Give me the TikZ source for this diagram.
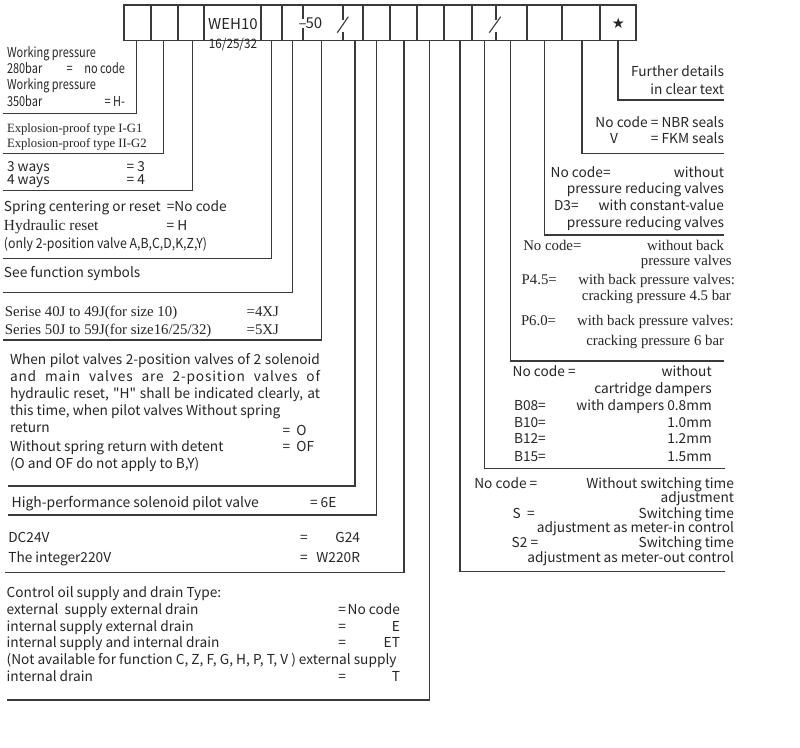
\documentclass[tikz,border=0pt]{standalone}
\usepackage{fontspec}
\setmainfont{Liberation Serif}
\newfontfamily\sansf{Noto Sans CJK SC}
\newfontfamily\condf[FakeStretch=0.80]{Noto Sans CJK SC}
\newfontfamily\condfb[FakeStretch=0.90]{Noto Sans CJK SC}
\newfontfamily\sansls[LetterSpace=6]{Noto Sans CJK SC}
\newfontfamily\symf{DejaVu Sans}
\definecolor{txt}{HTML}{262626}
\definecolor{linec}{HTML}{3A3A3A}
\begin{document}
\begin{tikzpicture}[x=1pt,y=-1pt,
  ln/.style={draw=linec, line width=1.1pt},
  base/.style={inner sep=0pt, outer sep=0pt, text=txt},
  S/.style={base, font=\sansf\fontsize{13.7}{16}\selectfont},
  SH/.style={base, font=\sansf\fontsize{13.9}{16}\selectfont},
  SL/.style={base, font=\sansf\fontsize{15}{16.7}\selectfont},
  C/.style={base, font=\condf\fontsize{13.7}{16}\selectfont},
  CB/.style={base, font=\condfb\fontsize{13.7}{16}\selectfont},
  R/.style={base, font=\rmfamily\fontsize{14.8}{16}\selectfont},
  RH/.style={base, font=\rmfamily\fontsize{15.4}{16}\selectfont},
  RS/.style={base, font=\rmfamily\fontsize{12.7}{14}\selectfont},
  W/.style={anchor=base west, yshift=-4.6pt},
  E/.style={anchor=base east, yshift=-4.6pt}]
\useasboundingbox (0,0) rectangle (800,747);
\fill[white] (0,0) rectangle (800,747);

% ---------- code row ----------
\draw[ln] (124,5) rectangle (636,40.7);
\foreach \x in {151,178,204,261,282,363,390,417,444,472,527,562,600}
  \draw[ln] (\x,5) -- (\x,40.7);
\draw[ln] (303,5) -- (303,18.5) (303,27.5) -- (303,40.7);
\draw[ln] (343,5) -- (343,20) (343,31.5) -- (343,40.7);
\draw[ln] (337.3,32.7) -- (348.3,16.7);
\draw[ln] (496,5) -- (496,20) (496,31.5) -- (496,40.7);
\draw[ln] (489.3,32.7) -- (500.7,16.7);

\node[SL, anchor=center] (weh) at (233,24) {WEH10};
\node[base, font=\condfb\fontsize{13}{14}\selectfont, anchor=center] (size) at (233,44.5) {16/25/32};
\node[SL, anchor=base] (dash) at (302.7,28.3) {–};
\node[SL, anchor=base west] (fifty) at (305.5,28.6) {50};
\node[base, font=\symf\fontsize{14.5}{15}\selectfont, anchor=center] (star) at (618.3,23.3) {★};

% ---------- leader start points (bottom of code cells) ----------
\coordinate (b1) at (136.7,40.7);
\coordinate (b2) at (163.3,40.7);
\coordinate (b3) at (192.3,40.7);
\coordinate (b4) at (271.7,40.7);
\coordinate (b5) at (292.3,40.7);
\coordinate (b6) at (321.7,40.7);
\coordinate (b7) at (355,40.7);
\coordinate (b8) at (376.7,40.7);
\coordinate (b9) at (404,40.7);
\coordinate (b10) at (429.3,40.7);
\coordinate (b11) at (460,40.7);
\coordinate (b12) at (484.5,40.7);
\coordinate (b13) at (510.5,40.7);
\coordinate (b14) at (544.5,40.7);
\coordinate (b15) at (582,40.7);
\coordinate (b16) at (618,40.7);
% leader end points
\coordinate (e1) at (3,113.3);
\coordinate (e2) at (3,153.3);
\coordinate (e3) at (3,190.7);
\coordinate (e4) at (3,258.3);
\coordinate (e5) at (3,292.7);
\coordinate (e6) at (3,340);
\coordinate (e7) at (8,486);
\coordinate (e8) at (8,515);
\coordinate (e9) at (5,572.7);
\coordinate (e10) at (7,700);
\coordinate (e11) at (725,571.7);
\coordinate (e12) at (725,468.3);
\coordinate (e13) at (724,361);
\coordinate (e14) at (724,235);
\coordinate (e15) at (724,153.3);
\coordinate (e16) at (724,100);
\foreach \i in {1,...,16} \draw[ln] (b\i) |- (e\i);

% ---------- left descriptions ----------
\node[C,W] (a1) at (7,52.7) {Working pressure};
\node[C,W] (a2) at (7,69) {280bar};
\node[C,W] (a3) at (66.7,69) {=};
\node[C,E] (a4) at (125,69) {no code};
\node[C,W] (a5) at (7,85) {Working pressure};
\node[C,W] (a6) at (7,101.7) {350bar};
\node[C,E] (a7) at (125,101.7) {= H-};

\node[RS,W] (x1) at (7,128.3) {Explosion-proof type I-G1};
\node[RS,W] (x2) at (7,143.3) {Explosion-proof type II-G2};

\node[S,W] (w1) at (7,166.7) {3 ways};
\node[S,E] (w2) at (145,166.7) {= 3};
\node[S,W] (w3) at (7,180) {4 ways};
\node[S,E] (w4) at (145,180) {= 4};

\node[S,W] (r1) at (4,206.7) {Spring centering or reset \ =No code};
\node[RH,W] (r2) at (4,226) {Hydraulic reset};
\node[S,W] (r3) at (166.7,226) {= H};
\node[CB,W] (r4) at (4,244) {(only 2-position valve A,B,C,D,K,Z,Y)};

\node[S,W] (f1) at (4,273.3) {See function symbols};

\node[R,W] (s1) at (5,312.3) {Serise 40J to 49J(for size 10)};
\node[R,W] (s2) at (246.7,312.3) {=4XJ};
\node[R,W] (s3) at (5,330) {Series 50J to 59J(for size16/25/32)};
\node[R,W] (s4) at (246.7,330) {=5XJ};

\node[S,W] (p1) at (10,360) {\makebox[310pt][s]{When pilot valves 2-position valves of 2 solenoid}};
\node[S,W] (p2) at (10,377) {\makebox[310pt][s]{\sansls and main valves are 2-position valves of}};
\node[S,W] (p3) at (10,394.3) {\makebox[310pt][s]{hydraulic reset, "H" shall be indicated clearly, at}};
\node[S,W] (p4) at (10,410.7) {this time, when pilot valves Without spring};
\node[S,W] (p5) at (10,428.3) {return};
\node[S,W] (p6) at (282.7,431) {= \ O};
\node[S,W] (p7) at (10,447.3) {Without spring return with detent};
\node[S,W] (p8) at (282.7,447.3) {= \ OF};
\node[S,W] (p9) at (10,464) {(O and OF do not apply to B,Y)};

\node[SH,W] (h1) at (11.7,502.7) {High-performance solenoid pilot valve};
\node[S,W] (h2) at (310,502.7) {= 6E};

\node[S,W] (v1) at (8.3,537.7) {DC24V};
\node[S,W] (v2) at (300,537.7) {=};
\node[S,E] (v3) at (360,537.7) {G24};
\node[S,W] (v4) at (8.3,558.3) {The integer220V};
\node[S,W] (v5) at (300,558.3) {=};
\node[S,E] (v6) at (360,558.3) {W220R};

\node[S,W] (o1) at (6.7,593.3) {Control oil supply and drain Type:};
\node[S,W] (o2) at (6.7,610) {external \ supply external drain};
\node[S,W] (o3) at (338.3,610) {=};
\node[S,E] (o4) at (400,610) {No code};
\node[S,W] (o5) at (6.7,626.7) {internal supply external drain};
\node[S,W] (o6) at (338.3,626.7) {=};
\node[S,E] (o7) at (400,626.7) {E};
\node[S,W] (o8) at (6.7,643.3) {internal supply and internal drain};
\node[S,W] (o9) at (338.3,643.3) {=};
\node[S,E] (o10) at (400,643.3) {ET};
\node[S,W] (o11) at (6.7,660) {(Not available for function C, Z, F, G, H, P, T, V ) external supply};
\node[S,W] (o12) at (6.7,676.7) {internal drain};
\node[S,W] (o13) at (338.3,676.7) {=};
\node[S,E] (o14) at (400,676.7) {T};

% ---------- right descriptions ----------
\node[S,E] (k1) at (724,72.3) {Further details};
\node[S,E] (k2) at (724,90) {in clear text};

\node[S,E] (l1) at (724,122.7) {No code = NBR seals};
\node[S,W] (l2) at (610,139) {V};
\node[S,E] (l3) at (724,139) {= FKM seals};

\node[S,W] (m1) at (550.7,172.7) {No code=};
\node[S,E] (m2) at (724,172.7) {without};
\node[S,E] (m3) at (724,189.3) {pressure reducing valves};
\node[S,W] (m4) at (554,205.7) {D3=};
\node[S,E] (m5) at (724,205.7) {with constant-value};
\node[S,E] (m6) at (724,222.7) {pressure reducing valves};

\node[R,W] (n1) at (523.3,245.7) {No code=};
\node[R,E] (n2) at (724,245.7) {without back};
\node[R,E] (n3) at (731.7,260.7) {pressure valves};
\node[R,W] (n4) at (521.7,280) {P4.5=};
\node[R,E] (n5) at (735,280) {with back pressure valves:};
\node[R,E] (n6) at (730.7,295.7) {cracking pressure 4.5 bar};
\node[R,W] (n7) at (521,320.7) {P6.0=};
\node[R,E] (n8) at (733.7,320.7) {with back pressure valves:};
\node[R,E] (n9) at (724,340.7) {cracking pressure 6 bar};

\node[S,W] (d1) at (512.7,372.3) {No code =};
\node[S,E] (d2) at (711.7,372.3) {without};
\node[S,E] (d3) at (711.7,389) {cartridge dampers};
\node[S,W] (d4) at (514,405.7) {B08=};
\node[S,E] (d5) at (711.7,405.7) {with dampers 0.8mm};
\node[S,W] (d6) at (514,422.7) {B10=};
\node[S,E] (d7) at (711.7,422.7) {1.0mm};
\node[S,W] (d8) at (514,439.3) {B12=};
\node[S,E] (d9) at (711.7,439.3) {1.2mm};
\node[S,W] (d10) at (514,456.7) {B15=};
\node[S,E] (d11) at (711.7,456.7) {1.5mm};

\node[S,W] (t1) at (474.3,484) {No code =};
\node[S,E] (t2) at (734,484) {Without switching time};
\node[S,E] (t3) at (734,498.3) {adjustment};
\node[S,W] (t4) at (512.7,514) {S \ =};
\node[S,E] (t5) at (734,514) {Switching time};
\node[S,E] (t6) at (734,528.3) {adjustment as meter-in control};
\node[S,W] (t7) at (511.7,543.3) {S2 =};
\node[S,E] (t8) at (734,543.3) {Switching time};
\node[S,E] (t9) at (734,557.7) {adjustment as meter-out control};
\end{tikzpicture}
\end{document}
